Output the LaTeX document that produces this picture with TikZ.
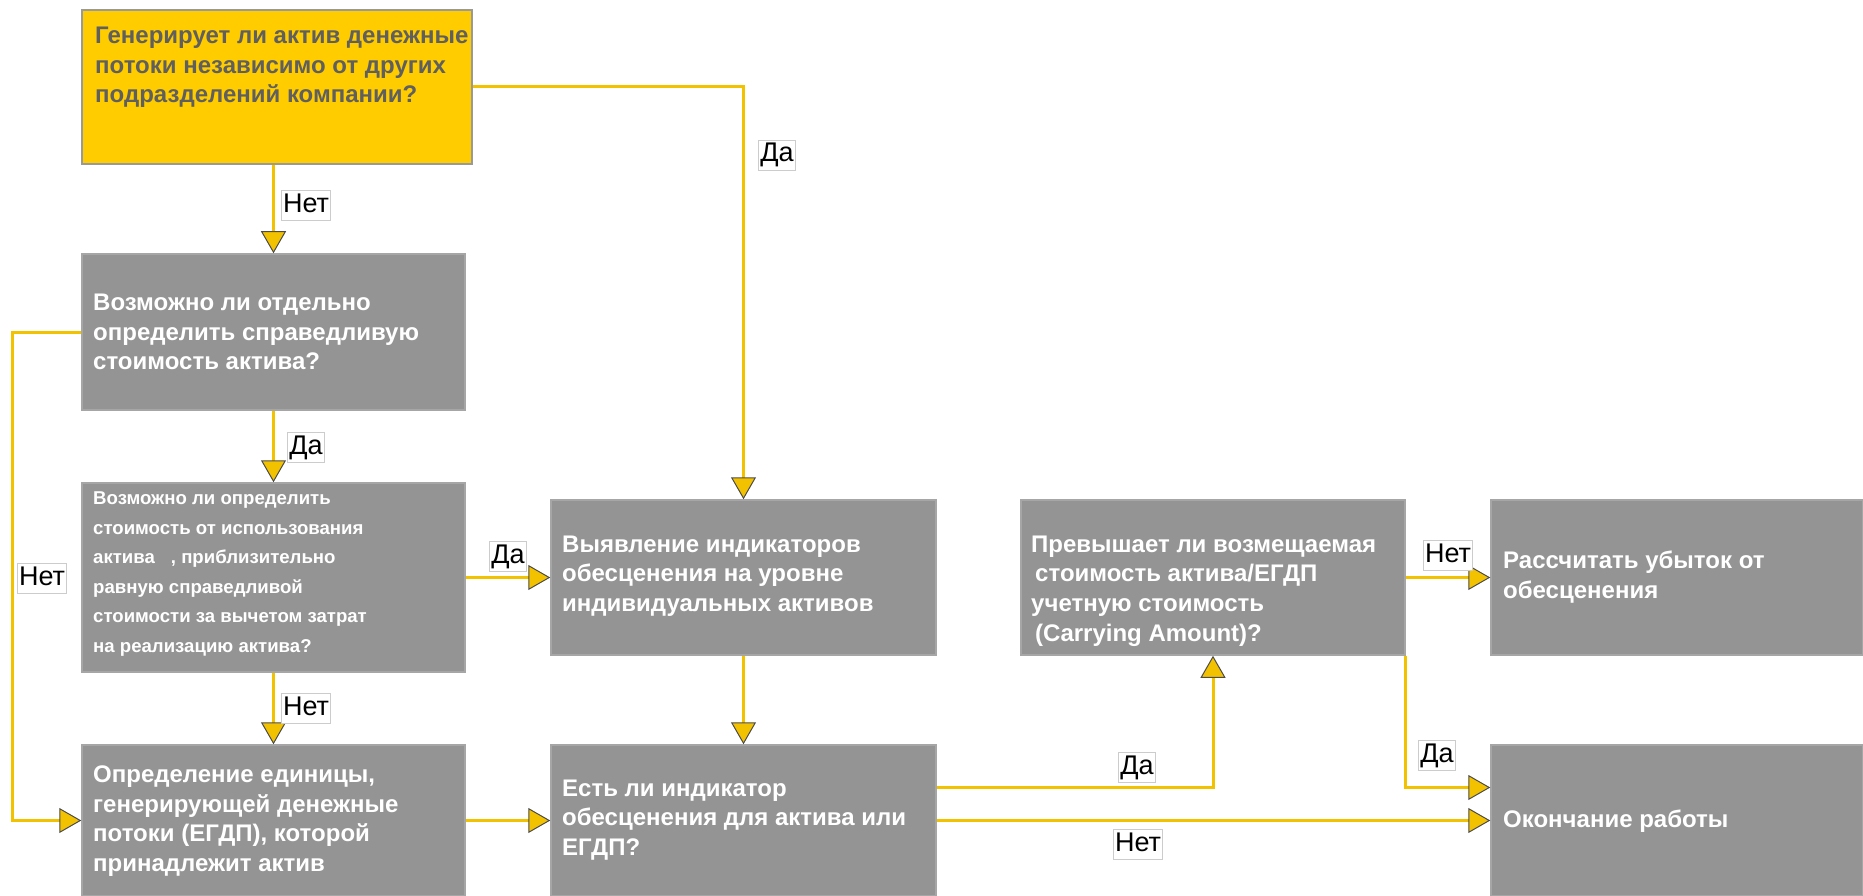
\documentclass[tikz,border=0pt]{standalone}
\usepackage{fontspec}
\setmainfont{Liberation Sans}
\usetikzlibrary{arrows.meta,calc}
\definecolor{ylw}{HTML}{FFCC00}
\definecolor{lineY}{HTML}{F2C200}
\definecolor{boxG}{HTML}{949494}
\definecolor{boxB}{HTML}{A6A6A6}
\definecolor{txtG}{HTML}{5F5F5F}
\tikzset{
  gbox/.style={draw=boxB, line width=1.5pt, fill=boxG, inner sep=0pt},
  ybox/.style={draw=black!40, line width=1.5pt, fill=ylw, inner sep=0pt},
  btext/.style={anchor=west, align=left, inner sep=0pt, text=white,
    font=\fontsize{24}{29.6}\selectfont\bfseries},
  ytext/.style={btext, text=txtG},
  stext/.style={btext, font=\fontsize{18.6}{29.6}\selectfont\bfseries},
  conn/.style={draw=lineY, line width=3pt,
    -{Triangle[length=22pt,width=25pt,fill=lineY,color=black!70,line width=1pt]}},
  lbl/.style={draw=black!20, line width=0.8pt, fill=white, inner xsep=1.5pt, inner ysep=2pt,
    text height=20pt, text depth=6pt, font=\fontsize{27}{27}\selectfont}
}
\begin{document}
\begin{tikzpicture}[x=1pt,y=-1pt]
\useasboundingbox (0,0) rectangle (1863,896);
% boxes
\node[ybox, minimum width=390pt, minimum height=154pt] (b1) at (277,87) {};
\node[gbox, minimum width=383pt, minimum height=156pt] (b2) at (273.5,332) {};
\node[gbox, minimum width=383pt, minimum height=189pt] (b3) at (273.5,577.5) {};
\node[gbox, minimum width=383pt, minimum height=151pt] (b4) at (273.5,820.5) {};
\node[gbox, minimum width=385pt, minimum height=155pt] (b5) at (743.5,577.5) {};
\node[gbox, minimum width=385pt, minimum height=151pt] (b6) at (743.5,820.5) {};
\node[gbox, minimum width=384pt, minimum height=155pt] (b7) at (1213,577.5) {};
\node[gbox, minimum width=372pt, minimum height=155pt] (b8) at (1677,577.5) {};
\node[gbox, minimum width=372pt, minimum height=151pt] (b9) at (1677,820.5) {};
% texts
\node[ytext] (t1) at (95,67.5) {Генерирует ли актив денежные\\потоки независимо от других\\подразделений компании?};
\node[btext] (t2) at (93,332) {Возможно ли отдельно\\определить справедливую\\стоимость актива?};
\node[stext] (t3) at (93,574) {Возможно ли определить\\стоимость от использования\\актива\hspace{16pt}, приблизительно\\равную справедливой\\стоимости за вычетом затрат\\на реализацию актива?};
\node[btext] (t4) at (93,821) {Определение единицы,\\генерирующей денежные\\потоки (ЕГДП), которой\\принадлежит актив};
\node[btext] (t5) at (562,576) {Выявление индикаторов\\обесценения на уровне\\индивидуальных активов};
\node[btext] (t6) at (562,820) {Есть ли индикатор\\обесценения для актива или\\ЕГДП?};
\node[btext] (t7) at (1031,591) {Превышает ли возмещаемая\\\hspace{4pt}стоимость актива/ЕГДП\\учетную стоимость\\\hspace{4pt}(Carrying Amount)?};
\node[btext] (t8) at (1503,577) {Рассчитать убыток от\\обесценения};
\node[btext] (t9) at (1503,821) {Окончание работы};
% helper coordinates
\coordinate (lft) at (12,0);
\coordinate (e1) at ($(b6.east)+(0,-33)$);
\coordinate (e2) at ($(b9.west)+(0,-33)$);
% connectors
\draw[conn] (b1.east) -- (b1.east -| b5.north) -- (b5.north);
\draw[conn] (b1.south -| b2.north) -- (b2.north);
\draw[conn] (b2.west) -- (b2.west -| lft) -- (b4.west -| lft) -- (b4.west);
\draw[conn] (b2.south) -- (b3.north);
\draw[conn] (b3.east) -- (b5.west);
\draw[conn] (b3.south) -- (b4.north);
\draw[conn] (b4.east) -- (b6.west);
\draw[conn] (b5.south) -- (b6.north);
\draw[conn] (e1) -- (e1 -| b7.south) -- (b7.south);
\draw[conn] (b6.east) -- (b9.west);
\draw[conn] (b7.east) -- (b8.west);
\draw[conn] (b7.south east) -- (b7.south east |- e2) -- (e2);
% labels
\node[lbl] (l1) at (777,155) {Да};
\node[lbl] (l2) at (306,205) {Нет};
\node[lbl] (l3) at (42,578) {Нет};
\node[lbl] (l4) at (306,447) {Да};
\node[lbl] (l5) at (508,556) {Да};
\node[lbl] (l6) at (306,708) {Нет};
\node[lbl] (l7) at (1137,767) {Да};
\node[lbl] (l8) at (1138,844) {Нет};
\node[lbl] (l9) at (1448,555) {Нет};
\node[lbl] (l10) at (1437,755) {Да};
\end{tikzpicture}
\end{document}
